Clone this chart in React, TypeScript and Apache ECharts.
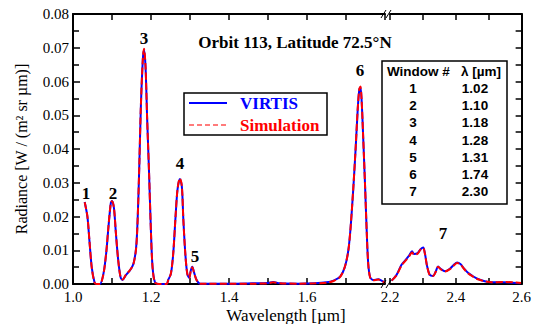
import React, { useEffect, useRef } from "react";
import * as echarts from "echarts";

// ---- Data ----
const wavelengthA = [
  1.03, 1.037, 1.042, 1.048, 1.055, 1.06, 1.069, 1.078, 1.085, 1.091, 1.097, 1.1, 1.105, 1.11, 1.116, 1.122,
  1.127, 1.136, 1.146, 1.155, 1.162, 1.166, 1.17, 1.174, 1.179, 1.182, 1.186, 1.19, 1.195, 1.2, 1.204, 1.21,
  1.22, 1.24, 1.244, 1.251, 1.257, 1.263, 1.268, 1.274, 1.279, 1.283, 1.288, 1.293, 1.298, 1.302, 1.306, 1.31,
  1.317, 1.326, 1.34, 1.4, 1.46, 1.5, 1.513, 1.53, 1.58, 1.62, 1.65, 1.668, 1.685, 1.697, 1.706, 1.712, 1.719,
  1.725, 1.73, 1.734, 1.737, 1.74, 1.744, 1.749, 1.753, 1.757, 1.762, 1.77, 1.783, 1.791, 1.8,
];
const virtisA = [
  0.0243, 0.0199, 0.013, 0.005, 0.0006, 0.0, 0.0, 0.003, 0.009, 0.017, 0.024, 0.0246, 0.0225, 0.015, 0.007, 0.002,
  0.0012, 0.0027, 0.004, 0.006, 0.011, 0.02, 0.035, 0.0525, 0.0664, 0.0694, 0.0643, 0.0495, 0.033, 0.015, 0.005, 0.0006,
  0.0, 0.0, 0.0012, 0.003, 0.009, 0.02, 0.028, 0.0311, 0.029, 0.019, 0.009, 0.003, 0.0018, 0.004, 0.0051, 0.0036,
  0.0012, 0.0001, 0.0001, 0.0001, 0.0002, 0.0003, 0.0006, 0.0002, 0.0001, 0.0002, 0.0005, 0.001, 0.0022, 0.005, 0.01, 0.017, 0.0288,
  0.0407, 0.0516, 0.0575, 0.0583, 0.0545, 0.0436, 0.0288, 0.016, 0.006, 0.002, 0.0012, 0.0014, 0.001, 0.0005,
];
const simulationA = [
  0.0242, 0.02, 0.0131, 0.0049, 0.0005, 0.0, 0.0, 0.0029, 0.0091, 0.0172, 0.0241, 0.0245, 0.0226, 0.0151, 0.0069, 0.002,
  0.0013, 0.0028, 0.0041, 0.0059, 0.0108, 0.0199, 0.0352, 0.0527, 0.0666, 0.0697, 0.0645, 0.0494, 0.0331, 0.0149, 0.0049, 0.0005,
  0.0, 0.0, 0.0011, 0.0031, 0.0091, 0.0201, 0.0281, 0.0313, 0.0291, 0.0189, 0.0089, 0.0031, 0.0017, 0.0039, 0.005, 0.0035,
  0.0011, 0.0001, 0.0001, 0.0001, 0.0001, 0.0002, 0.0005, 0.0002, 0.0001, 0.0002, 0.0004, 0.0009, 0.0021, 0.0051, 0.0099, 0.0171, 0.029,
  0.0409, 0.0518, 0.0577, 0.0585, 0.0547, 0.0438, 0.0287, 0.0159, 0.0059, 0.0019, 0.0011, 0.0013, 0.0009, 0.0004,
];

const wavelengthB = [
  2.205, 2.22, 2.235, 2.248, 2.258, 2.267, 2.273, 2.284, 2.293, 2.301, 2.306, 2.313, 2.321, 2.331, 2.339, 2.346,
  2.355, 2.367, 2.382, 2.394, 2.404, 2.414, 2.424, 2.437, 2.452, 2.467, 2.488, 2.508, 2.543, 2.573, 2.598,
];
const virtisB = [
  0.001, 0.0027, 0.0057, 0.0072, 0.0084, 0.0097, 0.0089, 0.0092, 0.0103, 0.0108, 0.0091, 0.0052, 0.0027, 0.0024, 0.0037, 0.0052,
  0.0044, 0.0038, 0.0045, 0.0057, 0.0064, 0.0059, 0.0047, 0.0033, 0.0023, 0.0015, 0.0008, 0.0005, 0.0005, 0.0004, 0.0002,
];
const simulationB = [
  0.001, 0.0026, 0.0055, 0.007, 0.0082, 0.0093, 0.0087, 0.009, 0.0102, 0.0106, 0.009, 0.0051, 0.0026, 0.0024, 0.0036, 0.0051,
  0.0043, 0.0037, 0.0044, 0.0055, 0.0062, 0.0058, 0.0046, 0.0032, 0.0022, 0.0014, 0.0008, 0.0005, 0.0006, 0.0005, 0.0003,
];

const windowNumbers = ["1", "2", "3", "4", "5", "6", "7"];
const windowWavelengths = ["1.02", "1.10", "1.18", "1.28", "1.31", "1.74", "2.30"];

const yTickLabels = ["0.00", "0.01", "0.02", "0.03", "0.04", "0.05", "0.06", "0.07", "0.08"];
const seriesNames = ["VIRTIS", "Simulation"];

const SERIF = "Liberation Serif";
const SANS = "Liberation Sans";

const zip = (xs: number[], ys: number[]) => xs.map((x, i) => [x, ys[i]]);

export default function App() {
  const ref = useRef<HTMLDivElement>(null);
  useEffect(() => {
    if (!ref.current) return;
    const chart = echarts.init(ref.current, null, { renderer: "svg" });

    const axisLine = { show: true, lineStyle: { color: "#000", width: 2 } };
    const tickStyle = { color: "#000", width: 1.5 };

    const xLabelFmt = (v: number) => {
      const k = Math.round(v * 10);
      return k % 2 === 0 ? (k / 10).toFixed(1) : "";
    };

    const blue = "#0000ff";
    const red = "#ff0000";

    const lineBlue = { color: blue, width: 2 };
    const lineRed = { color: red, width: 2, type: [7, 3] as any };

    const peakLabels = [
      { t: "1", x: 86, y: 193 },
      { t: "2", x: 113, y: 193 },
      { t: "3", x: 144, y: 38 },
      { t: "4", x: 180, y: 163 },
      { t: "5", x: 195, y: 256 },
      { t: "6", x: 360, y: 70 },
      { t: "7", x: 443, y: 233 },
    ];

    const txt = (text: string, x: number, y: number, o: any = {}) => ({
      type: "text",
      x,
      y,
      z: o.z ?? 50,
      style: {
        text,
        fontFamily: o.family ?? SERIF,
        fontSize: o.size ?? 16,
        fontWeight: o.weight ?? "normal",
        fill: o.fill ?? "#000",
        align: o.align ?? "center",
        verticalAlign: "middle",
      },
    });

    const graphics: any[] = [];
    graphics.push(txt("Orbit 113, Latitude 72.5°N", 295, 42, { size: 17, weight: "bold" }));
    graphics.push(txt("Wavelength [µm]", 286, 315, { size: 17 }));
    peakLabels.forEach((p) => graphics.push(txt(p.t, p.x, p.y, { size: 17, weight: "bold" })));

    // axis break marks
    [
      [381, 288, 386, 280],
      [386, 288, 391, 280],
      [381, 18, 386, 10],
      [386, 18, 391, 10],
    ].forEach(([x1, y1, x2, y2]) =>
      graphics.push({
        type: "line",
        shape: { x1, y1, x2, y2 },
        style: { stroke: "#000", lineWidth: 1 },
        z: 60,
      })
    );

    // legend box
    graphics.push({
      type: "rect",
      shape: { x: 184, y: 93, width: 143, height: 42 },
      style: { fill: "#fff", stroke: "#000", lineWidth: 1.5 },
      z: 100,
    });
    graphics.push({
      type: "line",
      shape: { x1: 189, y1: 103, x2: 227, y2: 103 },
      style: { stroke: blue, lineWidth: 2 },
      z: 101,
    });
    graphics.push({
      type: "line",
      shape: { x1: 189, y1: 125, x2: 227, y2: 125 },
      style: { stroke: "#ff5050", lineWidth: 1.5, lineDash: [5, 3] },
      z: 101,
    });
    graphics.push(txt(seriesNames[0], 240, 103, { size: 17, weight: "bold", fill: blue, align: "left", z: 101 }));
    graphics.push(txt(seriesNames[1], 240, 125, { size: 17, weight: "bold", fill: red, align: "left", z: 101 }));

    // table
    graphics.push({
      type: "rect",
      shape: { x: 382, y: 61, width: 125, height: 143 },
      style: { fill: "#fff", stroke: "#000", lineWidth: 1.5 },
      z: 100,
    });
    graphics.push(txt("Window #", 387, 71, { family: SANS, size: 13.5, weight: "bold", align: "left", z: 101 }));
    graphics.push(txt("λ [µm]", 461, 71, { family: SANS, size: 13.5, weight: "bold", align: "left", z: 101 }));
    windowNumbers.forEach((n, i) => {
      const y = 88.5 + i * 17.2;
      graphics.push(txt(n, 413, y, { family: SANS, size: 13.5, weight: "bold", z: 101 }));
      graphics.push(txt(windowWavelengths[i], 475, y, { family: SANS, size: 13.5, weight: "bold", z: 101 }));
    });

    const xAxisBase = (grid: number, pos: string, min: number, max: number, labels: boolean, fmt?: any) => ({
      gridIndex: grid,
      type: "value",
      position: pos,
      min,
      max,
      interval: 0.1,
      axisLine,
      axisTick: { show: true, inside: true, length: 6, lineStyle: tickStyle },
      axisLabel: labels
        ? { formatter: fmt, fontFamily: SERIF, fontSize: 15, color: "#000", margin: 5 }
        : { show: false },
      splitLine: { show: false },
    });

    const lineSeries = (name: string, xi: number, yi: number, xs: number[], ys: number[], style: any, z: number) => ({
      name,
      type: "line",
      xAxisIndex: xi,
      yAxisIndex: yi,
      data: zip(xs, ys),
      showSymbol: false,
      symbol: "none",
      smooth: 0.3,
      lineStyle: style,
      itemStyle: { color: style.color },
      z,
    });

    chart.setOption({
      animation: false,
      backgroundColor: "#fff",
      grid: [
        { left: 73, top: 14, width: 312, height: 270 },
        { left: 390, top: 14, width: 132, height: 270 },
      ],
      xAxis: [
        xAxisBase(0, "bottom", 1.0, 1.8, true, (v: number) => (v > 1.79 ? "" : xLabelFmt(v))),
        xAxisBase(0, "top", 1.0, 1.8, false),
        xAxisBase(1, "bottom", 2.2, 2.6, true, xLabelFmt),
        xAxisBase(1, "top", 2.2, 2.6, false),
      ],
      yAxis: [
        {
          gridIndex: 0,
          type: "value",
          position: "left",
          min: 0,
          max: 0.08,
          interval: 0.01,
          axisLine,
          axisTick: { show: true, inside: true, length: 7, lineStyle: tickStyle },
          minorTick: { show: true, splitNumber: 2, length: 6, lineStyle: tickStyle },
          axisLabel: {
            formatter: (v: number) => yTickLabels[Math.round(v * 100)] ?? "",
            fontFamily: SERIF,
            fontSize: 15,
            color: "#000",
            margin: 4,
          },
          splitLine: { show: false },
          name: "Radiance [W / (m² sr µm)]",
          nameLocation: "middle",
          nameGap: 44,
          nameTextStyle: { fontFamily: SERIF, fontSize: 16, color: "#000" },
        },
        {
          gridIndex: 1,
          type: "value",
          position: "right",
          min: 0,
          max: 0.08,
          interval: 0.005,
          axisLine,
          axisTick: { show: true, inside: true, length: 6, lineStyle: tickStyle },
          axisLabel: { show: false },
          splitLine: { show: false },
        },
      ],
      series: [
        lineSeries(seriesNames[0], 0, 0, wavelengthA, virtisA, lineBlue, 2),
        lineSeries(seriesNames[1], 0, 0, wavelengthA, simulationA, lineRed, 3),
        lineSeries(seriesNames[0], 2, 1, wavelengthB, virtisB, lineBlue, 2),
        lineSeries(seriesNames[1], 2, 1, wavelengthB, simulationB, lineRed, 3),
      ],
      graphic: graphics,
    });

    return () => chart.dispose();
  }, []);

  return <div ref={ref} style={{ width: 534, height: 324, position: "absolute", left: 0, top: 0 }} />;
}
